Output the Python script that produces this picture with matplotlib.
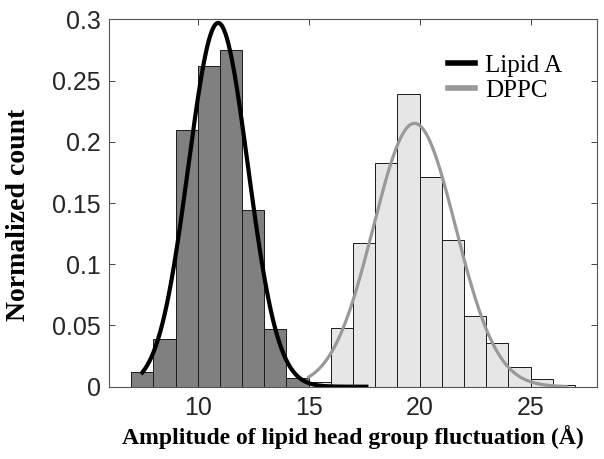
import numpy as np
import matplotlib
matplotlib.use("Agg")
import matplotlib.pyplot as plt

# histogram bins (1 Å wide), left edges and normalized counts
lipidA_edges = [7, 8, 9, 10, 11, 12, 13, 14, 15, 16, 17]
lipidA_counts = [0.012, 0.039, 0.210, 0.262, 0.275, 0.144, 0.047, 0.007, 0.003, 0.001, 0.001]
dppc_edges = [15, 16, 17, 18, 19, 20, 21, 22, 23, 24, 25, 26]
dppc_counts = [0.004, 0.048, 0.117, 0.183, 0.239, 0.171, 0.120, 0.058, 0.036, 0.016, 0.006, 0.001]

# normal fits (mean, sigma) and the x-range the fit is drawn over
lipidA_fit = (10.92, 1.343)
lipidA_range = (7.5, 17.6)
dppc_fit = (19.77, 1.855)
dppc_range = (15.0, 26.6)

yticks = [0, 0.05, 0.1, 0.15, 0.2, 0.25, 0.3]
ytick_labels = ["0", "0.05", "0.1", "0.15", "0.2", "0.25", "0.3"]
xticks = [10, 15, 20, 25]


def normal_curve(fit, rng):
    mu, sd = fit
    x = np.linspace(rng[0], rng[1], 300)
    y = np.exp(-0.5 * ((x - mu) / sd) ** 2) / (sd * np.sqrt(2 * np.pi))
    return x, y


fig = plt.figure(figsize=(6.04, 4.59), dpi=100)
ax = fig.add_axes([0.1805, 0.1575, 0.808, 0.8004])

ax.bar(lipidA_edges, lipidA_counts, width=1, align="edge",
       color="#808080", edgecolor="#1a1a1a", linewidth=0.7, zorder=2)
ax.bar(dppc_edges, dppc_counts, width=1, align="edge",
       color="#e6e6e6", edgecolor="#1a1a1a", linewidth=0.7, zorder=2)

x2, y2 = normal_curve(dppc_fit, dppc_range)
l2, = ax.plot(x2, y2, color="#999999", lw=2.3, zorder=3, label="DPPC")
x1, y1 = normal_curve(lipidA_fit, lipidA_range)
l1, = ax.plot(x1, y1, color="black", lw=3.0, zorder=4, label="Lipid A")

ax.set_xlim(6, 28)
ax.set_ylim(0, 0.3)
ax.set_xticks(xticks)
ax.set_yticks(yticks)
ax.set_yticklabels(ytick_labels)
ax.tick_params(direction="in", top=True, right=True, length=4, width=0.6,
               colors="#262626", labelsize=18)
ax.tick_params(axis="x", pad=7)
ax.tick_params(axis="y", pad=6)
for lab in ax.get_xticklabels() + ax.get_yticklabels():
    lab.set_family("Liberation Sans")
for sp in ax.spines.values():
    sp.set_color("#555555")
    sp.set_linewidth(0.8)

ax.set_xlabel("Amplitude of lipid head group fluctuation (Å)",
              family="Liberation Serif", weight="bold", fontsize=17, labelpad=3)
ax.set_ylabel("Normalized count", family="Liberation Serif", weight="bold",
              fontsize=20)
ax.yaxis.set_label_coords(-0.16, 0.467)

leg = ax.legend(handles=[l1, l2], loc="upper right", bbox_to_anchor=(0.975, 0.965),
                frameon=False, prop={"family": "Liberation Serif", "size": 18},
                handlelength=1.1, handletextpad=0.4, labelspacing=0.1)
for h in leg.get_lines():
    h.set_linewidth(4)

fig.savefig("out.png", dpi=100)
